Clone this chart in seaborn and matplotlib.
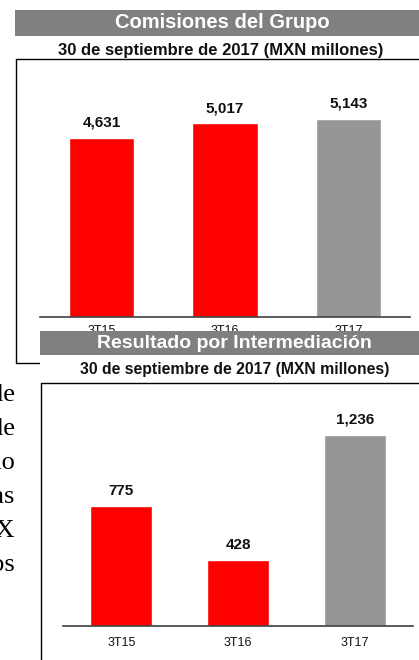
import matplotlib
matplotlib.use("Agg")
import matplotlib.pyplot as plt
import seaborn as sns
from matplotlib.patches import Rectangle
from matplotlib.lines import Line2D

# data
quarters = ["3T15", "3T16", "3T17"]
comisiones = [4631, 5017, 5143]
intermediacion = [775, 428, 1236]
bar_colors = ["#ff0000", "#ff0000", "#969696"]
title_top = "Comisiones del Grupo"
title_bottom = "Resultado por Intermediación"
subtitle = "30 de septiembre de 2017 (MXN millones)"
side_words = ["de", "de", "como", "las", "MX", "nos"]

sns.set_style("white")
plt.rcParams["font.family"] = ["Liberation Sans", "DejaVu Sans"]

W, H = 419, 660
fig = plt.figure(figsize=(W / 100, H / 100), dpi=100)
fig.patch.set_facecolor("white")


def fx(x):
    return x / W


def fy(y):
    return 1 - y / H


def add_ax(x0, y0, x1, y1, z):
    ax = fig.add_axes([fx(x0), fy(y1), (x1 - x0) / W, (y1 - y0) / H])
    ax.set_zorder(z)
    return ax


def draw_bars(ax, values, ymax_factor, label_size, tick_pad):
    sns.barplot(x=quarters, y=values, hue=quarters, palette=bar_colors,
                width=0.53, saturation=1, legend=False, ax=ax)
    for c in ax.containers:
        ax.bar_label(c, fmt="{:,.0f}", padding=6, fontsize=label_size,
                     fontweight="bold", color="#111111")
    ax.set_xlim(-0.5, 2.5)
    ax.set_ylim(0, max(values) * ymax_factor)
    ax.set_yticks([])
    ax.set_xlabel("")
    ax.set_ylabel("")
    for s in ["top", "left", "right"]:
        ax.spines[s].set_visible(False)
    ax.spines["bottom"].set_color("#404040")
    ax.spines["bottom"].set_linewidth(1.2)
    ax.set_xticks([-0.5, 0.5, 1.5, 2.5], minor=True)
    ax.tick_params(axis="x", which="minor", length=4, width=1.1,
                   color="#404040", direction="out")
    ax.tick_params(axis="x", which="major", length=0, pad=tick_pad, labelsize=9,
                   labelcolor="#111111")
    ax.patch.set_alpha(0)


# top chart
ax1 = add_ax(40, 59, 410, 317, 1)
draw_bars(ax1, comisiones, 1.3, 11, 6)

# white area of the second picture laid over the first
fig.add_artist(Rectangle((fx(40), 0), 1 - fx(40), fy(331), transform=fig.transFigure,
                         facecolor="white", edgecolor="none", zorder=2))

# bottom chart
ax2 = add_ax(63, 383, 413, 626, 3)
draw_bars(ax2, intermediacion, 1.272, 11, 8)

# boxes
line_kw = dict(transform=fig.transFigure, color="black", linewidth=1.0)
fig.add_artist(Line2D([fx(16), fx(16)], [fy(59), fy(363)], zorder=1.5, **line_kw))
fig.add_artist(Line2D([fx(16), 1], [fy(59), fy(59)], zorder=1.5, **line_kw))
fig.add_artist(Line2D([fx(16), fx(40)], [fy(363), fy(363)], zorder=1.5, **line_kw))
fig.add_artist(Line2D([fx(41), fx(41)], [fy(383), 0], zorder=4, **line_kw))
fig.add_artist(Line2D([fx(41), 1], [fy(383), fy(383)], zorder=4, **line_kw))

# banners
fig.add_artist(Rectangle((fx(15), fy(36)), 1 - fx(15), 26 / H, transform=fig.transFigure,
                         facecolor="#808080", edgecolor="none", zorder=4))
fig.add_artist(Rectangle((fx(40), fy(355)), 1 - fx(40), 24 / H, transform=fig.transFigure,
                         facecolor="#808080", edgecolor="none", zorder=4))
fig.text(fx(222), fy(23), title_top, ha="center", va="center", color="white",
         fontsize=14.5, fontweight="bold", zorder=5)
fig.text(fx(234), fy(343), title_bottom, ha="center", va="center", color="white",
         fontsize=14, fontweight="bold", zorder=5)
fig.text(fx(221), fy(50), subtitle, ha="center", va="center", color="#111111",
         fontsize=12, fontweight="bold", zorder=5)
fig.text(fx(235), fy(370), subtitle, ha="center", va="center", color="#111111",
         fontsize=11.3, fontweight="bold", zorder=5)

# clipped text of the page on the left
for i, w in enumerate(side_words):
    fig.text(fx(15), fy(401 + i * 34), w, ha="right", va="baseline",
             fontsize=19, family=["Liberation Serif", "DejaVu Serif"], color="black", zorder=5)

fig.savefig("out.png", dpi=100)
